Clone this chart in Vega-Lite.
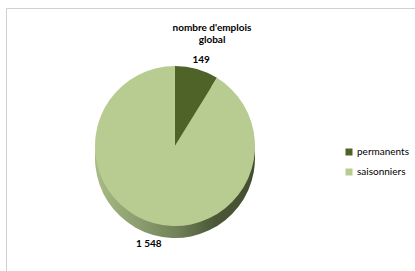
{
  "$schema": "https://vega.github.io/schema/vega-lite/v6.json",
  "width": 412,
  "height": 266,
  "autosize": {"type": "none"},
  "padding": {"left": 6, "top": 8, "right": 0, "bottom": 0},
  "background": "white",
  "view": {"stroke": "#d0d0d0", "strokeWidth": 1},
  "config": {
    "font": "Lato",
    "locale": {"number": {"decimal": ",", "thousands": " ", "grouping": [3], "currency": ["", " €"]}}
  },
  "title": {
    "text": ["nombre d'emplois", "global"],
    "fontSize": 10,
    "fontWeight": "bold",
    "font": "Lato",
    "color": "#000000",
    "anchor": "middle",
    "offset": -37,
    "lineHeight": 12
  },
  "data": {
    "values": [
      {"type": "permanents", "emplois": 149},
      {"type": "saisonniers", "emplois": 1548}
    ]
  },
  "encoding": {
    "theta": {"field": "emplois", "type": "quantitative", "stack": true}
  },
  "layer": [
    {
      "mark": {
        "type": "arc",
        "outerRadius": 80,
        "xOffset": -37,
        "yOffset": 17,
        "fill": {
          "gradient": "linear",
          "x1": 0, "y1": 0.5, "x2": 1, "y2": 0.5,
          "stops": [
            {"offset": 0, "color": "#a9bb86"},
            {"offset": 0.5, "color": "#73835a"},
            {"offset": 0.75, "color": "#4b5736"},
            {"offset": 1, "color": "#434e30"}
          ]
        }
      }
    },
    {
      "mark": {"type": "arc", "outerRadius": 80, "xOffset": -37, "yOffset": 5},
      "encoding": {
        "color": {
          "field": "type",
          "type": "nominal",
          "scale": {"domain": ["permanents", "saisonniers"], "range": ["#4f6228", "#b8cc92"]},
          "legend": {
            "orient": "none",
            "legendX": 338,
            "legendY": 139,
            "title": null,
            "symbolType": "square",
            "symbolSize": 49,
            "symbolStrokeWidth": 0,
            "labelFontSize": 10,
            "labelFont": "Lato",
            "labelColor": "#000000",
            "labelOffset": 3,
            "rowPadding": 10
          }
        }
      }
    },
    {
      "mark": {"type": "text", "radius": 96, "xOffset": -37, "yOffset": 11, "fontWeight": "bold", "fontSize": 10, "font": "Lato", "color": "#000000"},
      "encoding": {
        "text": {"field": "emplois", "type": "quantitative", "format": ",d"}
      }
    }
  ]
}
